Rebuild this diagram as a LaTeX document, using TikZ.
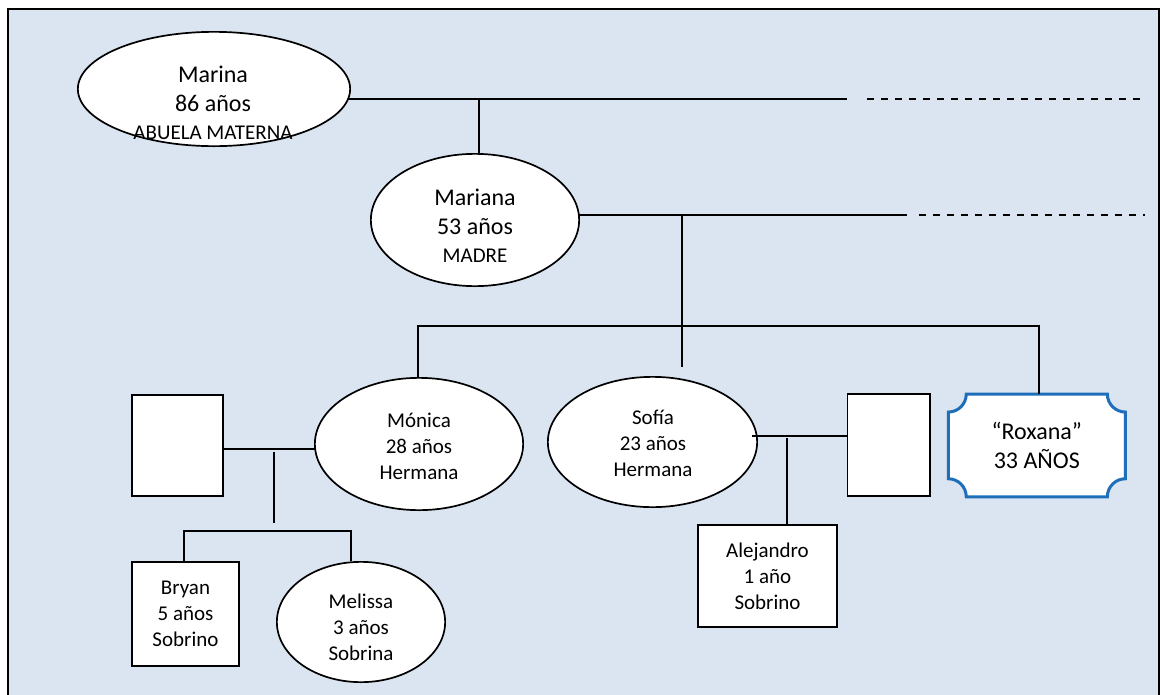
\documentclass[tikz,border=0pt]{standalone}
\usepackage{fontspec}
\setmainfont{Carlito}
\usetikzlibrary{shapes.geometric}
\definecolor{fondoazul}{RGB}{219,229,241}
\definecolor{azulrox}{RGB}{30,110,185}
\pgfdeclarelayer{fondo}
\pgfdeclarelayer{lineas}
\pgfsetlayers{fondo,lineas,main}

\begin{document}
\begin{tikzpicture}[x=1pt,y=-1pt,
    mujer/.style={ellipse, draw, line width=1.7pt, fill=white, inner sep=0pt},
    hombre/.style={rectangle, draw, line width=1.7pt, fill=white, inner sep=0pt,
      align=center, font=\fontsize{21}{26}\selectfont},
    txtg/.style={align=center, inner sep=0pt, font=\fontsize{24}{28.5}\selectfont},
    txtm/.style={align=center, inner sep=0pt, font=\fontsize{21}{26}\selectfont},
    linea/.style={line width=1.9pt},
    punteada/.style={line width=2.2pt, dash pattern=on 7pt off 7pt}]

  \useasboundingbox (0,0) rectangle (1160,694);
  \begin{pgfonlayer}{fondo}
    \fill[fondoazul] (8,9) rectangle (1159,710);
    \draw[line width=1.6pt] (8,710) -- (8,9) -- (1159,9) -- (1159,710);
  \end{pgfonlayer}

  % abuela y madre
  \node[mujer, minimum width=272.3pt, minimum height=114.3pt] (marina) at (214,89) {};
  \node[txtg] (marina-t) at (213,103) {Marina\\86 años\\{\fontsize{21}{28.5}\selectfont ABUELA MATERNA}};
  \node[mujer, minimum width=208.3pt, minimum height=132.3pt] (mariana) at (475,220) {};
  \node[txtg] (mariana-t) at (475,226) {Mariana\\53 años\\{\fontsize{21}{28}\selectfont MADRE}};

  % hermanas
  \node[mujer, minimum width=208.3pt, minimum height=132.3pt] (monica) at (419,444) {};
  \node[txtm] (monica-t) at (419,446) {Mónica\\28 años\\Hermana};
  \node[mujer, minimum width=209.3pt, minimum height=130.3pt] (sofia) at (652.5,442) {};
  \node[txtm] (sofia-t) at (653,443) {Sofía\\23 años\\Hermana};
  \node[inner sep=0pt, minimum width=176.7pt, minimum height=102.3pt, align=center,
    font=\fontsize{24}{29}\selectfont] (roxana) at (1036.8,445.4) {“Roxana”\\33 AÑOS};

  % parejas
  \node[hombre, minimum width=91.3pt, minimum height=101.3pt] (pareja1) at (177.5,445.5) {};
  \node[hombre, minimum width=82.3pt, minimum height=102.3pt] (pareja2) at (888.7,445) {};

  % sobrinos
  \node[hombre, minimum width=107.3pt, minimum height=104.3pt] (bryan) at (185.5,614) {Bryan\\5 años\\Sobrino};
  \node[mujer, minimum width=168.3pt, minimum height=120.3pt] (melissa) at (361,622) {};
  \node[txtm] (melissa-t) at (361,627) {Melissa\\3 años\\Sobrina};
  \node[hombre, minimum width=139.3pt, minimum height=102.3pt] (alejandro) at (767.5,576) {Alejandro\\1 año\\Sobrino};

  \coordinate (abu-a) at (479,99);
  \coordinate (abu-b) at (847,99);
  \coordinate (abu-c) at (867,99);
  \coordinate (abu-d) at (1141,99);
  \coordinate (mad-a) at (682,215);
  \coordinate (mad-b) at (907,215);
  \coordinate (mad-c) at (919,215);
  \coordinate (mad-d) at (1145,215);
  \coordinate (mad-e) at (682,367);
  \coordinate (her-a) at (418,326);
  \coordinate (her-b) at (1039,326);
  \coordinate (mon-a) at (274,449);
  \coordinate (mon-b) at (274,452);
  \coordinate (mon-c) at (274,523);
  \coordinate (sob-a) at (184,531);
  \coordinate (sob-b) at (351,531);
  \coordinate (sof-a) at (752,436);
  \coordinate (sof-b) at (787,438);

  \begin{pgfonlayer}{lineas}
    % marco de Roxana
    \draw[draw=azulrox, line width=3pt, fill=white]
      ([xshift=18pt]roxana.north west) -- ([xshift=-18pt]roxana.north east)
      arc[start angle=180, end angle=270, radius=18pt]
      -- ([yshift=18pt]roxana.south east)
      arc[start angle=90, end angle=180, radius=18pt]
      -- ([xshift=18pt]roxana.south west)
      arc[start angle=0, end angle=90, radius=18pt]
      -- ([yshift=-18pt]roxana.north west)
      arc[start angle=270, end angle=360, radius=18pt]
      -- cycle;

    \draw[linea] (marina.center |- abu-a) -- (abu-b);
    \draw[punteada] (abu-c) -- (abu-d);
    \draw[linea] (abu-a) -- (abu-a |- mariana.north);

    \draw[linea] (mariana.center |- mad-a) -- (mad-b);
    \draw[punteada] (mad-c) -- (mad-d);
    \draw[linea] (mad-a) -- (mad-e);

    \draw[linea] (her-a |- monica.north) -- (her-a) -- (her-b) -- (her-b |- roxana.north);

    \draw[linea] (pareja1.center |- mon-a) -- (monica.center |- mon-a);
    \draw[linea] (mon-b) -- (mon-c);
    \draw[linea] (sob-a |- bryan.north) -- (sob-a) -- (sob-b) -- (sob-b |- melissa.north);

    \draw[linea] (sof-b) -- (sof-b |- alejandro.north);
  \end{pgfonlayer}

  \draw[linea] (sof-a) -- (sof-a -| pareja2.west);
\end{tikzpicture}
\end{document}
